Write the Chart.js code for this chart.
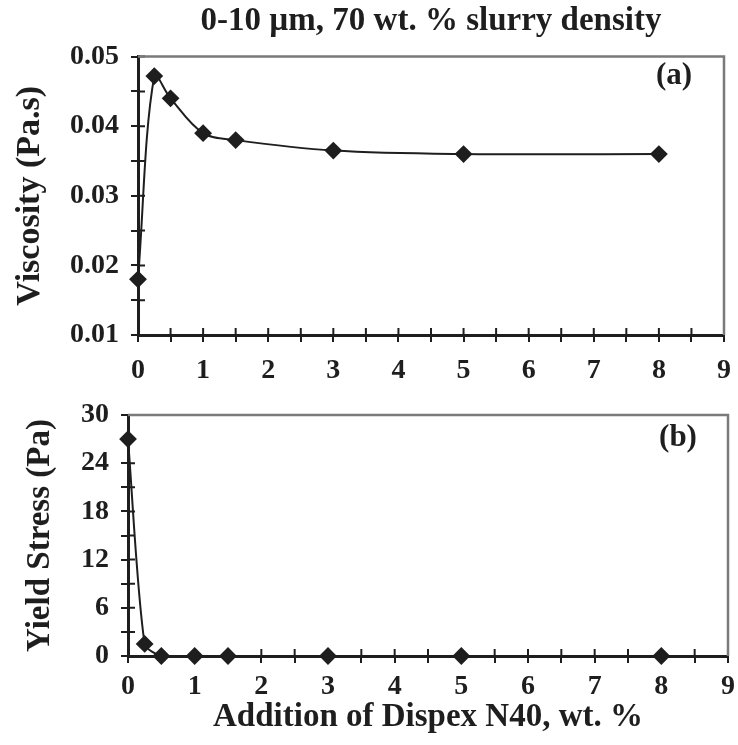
<!DOCTYPE html>
<html>
<head>
<meta charset="utf-8">
<script src="https://cdn.jsdelivr.net/npm/chart.js@4"></script>
<style>
  body { margin: 0; background: #fff; }
  #wrap { position: relative; width: 738px; height: 745px; }
  .panel { position: absolute; left: 0; width: 738px; }
  #panelA { top: 0; height: 380px; }
  #panelB { top: 380px; height: 365px; }
</style>
</head>
<body>
<div id="wrap">
  <div class="panel" id="panelA"><canvas id="viscChart"></canvas></div>
  <div class="panel" id="panelB"><canvas id="yieldChart"></canvas></div>
</div>
<script>
// Dispex N40 addition (wt. %)
const doseValues = [0, 0.25, 0.5, 1, 1.5, 3, 5, 8];
// panel (a) viscosity, Pa.s
const viscosityValues = [0.018, 0.0472, 0.044, 0.039, 0.038, 0.0365, 0.036, 0.036];
// panel (b) yield stress, Pa
const yieldStressValues = [27, 1.5, 0, 0, 0, 0, 0, 0];

const titleText = '0-10 µm, 70 wt. % slurry density';
const xTitle = 'Addition of Dispex N40, wt. %';
const yTitleA = 'Viscosity (Pa.s)';
const yTitleB = 'Yield Stress (Pa)';
const panelLabels = ['(a)', '(b)'];

const FONT = "'Liberation Serif', 'Times New Roman', serif";
const INK = '#1e1e1e';

// ticks that cross the axis + grey frame on top and right + panel letter
const frameTicks = {
    id: 'frameTicks',
    beforeDatasetsDraw(chart, args, opts) {
        const { ctx, chartArea: a, scales: { x, y } } = chart;
        ctx.save();
        ctx.strokeStyle = INK;
        ctx.lineWidth = 2;
        ctx.beginPath();
        x.ticks.forEach((t, i) => {
            const px = x.getPixelForTick(i);
            ctx.moveTo(px, a.bottom);
            ctx.lineTo(px, a.bottom - 7);
        });
        y.ticks.forEach((t, i) => {
            const py = y.getPixelForTick(i);
            ctx.moveTo(a.left, py);
            ctx.lineTo(a.left + 7, py);
        });
        ctx.stroke();

        ctx.strokeStyle = '#7a7a7a';
        ctx.lineWidth = 2.5;
        ctx.beginPath();
        ctx.moveTo(a.left, a.top);
        ctx.lineTo(a.right, a.top);
        ctx.lineTo(a.right, a.bottom);
        ctx.stroke();

        ctx.fillStyle = INK;
        ctx.font = 'bold 31px ' + FONT;
        ctx.textAlign = 'center';
        ctx.textBaseline = 'middle';
        ctx.fillText(opts.label, a.right - 50, a.top + opts.labelDy);
        ctx.restore();
    }
};

function makeChart(canvasId, values, o) {
    const ctx = document.getElementById(canvasId).getContext('2d');
    return new Chart(ctx, {
        type: 'line',
        data: {
            datasets: [{
                data: doseValues.map((d, i) => ({ x: d, y: values[i] })),
                borderColor: INK,
                borderWidth: 2,
                backgroundColor: INK,
                pointStyle: 'rectRot',
                pointRadius: 7.5,
                pointBackgroundColor: INK,
                pointBorderColor: INK,
                tension: o.tension,
                clip: false
            }]
        },
        options: {
            responsive: true,
            maintainAspectRatio: false,
            animation: false,
            layout: {
                padding: { left: 0, right: o.padRight, top: o.padTop, bottom: 0 }
            },
            scales: {
                x: {
                    type: 'linear',
                    min: 0,
                    max: 9,
                    afterFit: s => {
                        s.height = o.xHeight;
                        s.paddingLeft = 0;
                        s.paddingRight = 0;
                    },
                    border: { color: INK, width: 3 },
                    grid: { drawOnChartArea: false, tickLength: 7, color: INK, lineWidth: 2 },
                    ticks: {
                        stepSize: 0.5,
                        autoSkip: false,
                        maxRotation: 0,
                        padding: o.xTickPad,
                        color: INK,
                        font: { family: FONT, size: 28, weight: 'bold' },
                        callback: v => Number.isInteger(v) ? String(v) : ''
                    },
                    title: {
                        display: o.showXTitle,
                        text: xTitle,
                        color: INK,
                        font: { family: FONT, size: 33, weight: 'bold' },
                        padding: { top: 0, bottom: 8 }
                    }
                },
                y: {
                    min: o.yMin,
                    max: o.yMax,
                    afterFit: s => { s.width = o.yWidth; },
                    border: { color: INK, width: 3 },
                    grid: { drawOnChartArea: false, tickLength: 7, color: INK, lineWidth: 2 },
                    ticks: {
                        stepSize: o.yStep,
                        autoSkip: false,
                        padding: 12,
                        color: INK,
                        font: { family: FONT, size: 28, weight: 'bold' },
                        callback: o.yLabel
                    },
                    title: {
                        display: true,
                        text: o.yTitle,
                        color: INK,
                        font: { family: FONT, size: o.yTitleSize, weight: 'bold' },
                        padding: { top: o.yTitlePad, bottom: 0 }
                    }
                }
            },
            plugins: {
                legend: { display: false },
                tooltip: { enabled: false },
                title: {
                    display: o.showTitle,
                    text: titleText,
                    fullSize: false,
                    color: INK,
                    font: { family: FONT, size: 33, weight: 'bold' },
                    padding: { top: 2, bottom: 15 }
                },
                frameTicks: { label: o.label, labelDy: o.labelDy }
            }
        },
        plugins: [frameTicks]
    });
}

makeChart('viscChart', viscosityValues, {
    tension: 0.35,
    padRight: 14,
    padTop: 0,
    xHeight: 45,
    xTickPad: 12,
    yWidth: 138,
    yMin: 0.01,
    yMax: 0.05,
    yStep: 0.005,
    yLabel: v => Math.abs(v * 100 - Math.round(v * 100)) < 1e-6 ? v.toFixed(2) : '',
    yTitle: yTitleA,
    yTitleSize: 34,
    yTitlePad: 10,
    showTitle: true,
    showXTitle: false,
    label: panelLabels[0],
    labelDy: 19
});

makeChart('yieldChart', yieldStressValues, {
    tension: 0.25,
    padRight: 10,
    padTop: 35,
    xHeight: 89,
    xTickPad: 7,
    yWidth: 128,
    yMin: 0,
    yMax: 30,
    yStep: 3,
    yLabel: v => Math.round(v) % 6 === 0 ? String(Math.round(v)) : '',
    yTitle: yTitleB,
    yTitleSize: 33,
    yTitlePad: 21,
    showTitle: false,
    showXTitle: true,
    label: panelLabels[1],
    labelDy: 23
});
</script>
</body>
</html>
